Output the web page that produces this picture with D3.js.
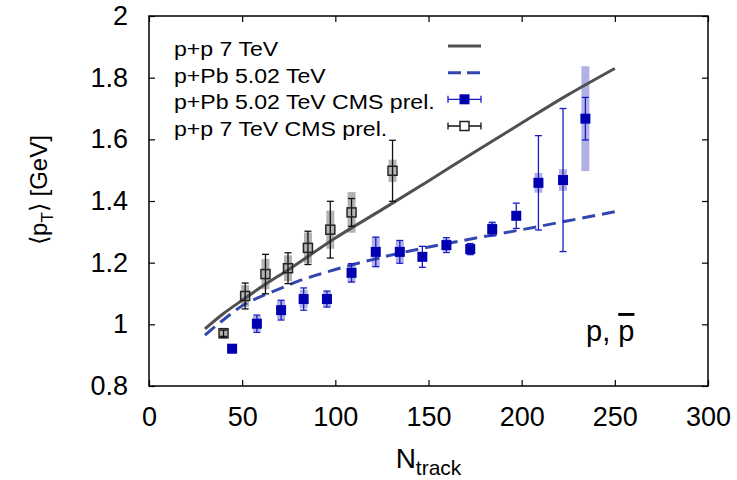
<!DOCTYPE html>
<html>
<head>
<meta charset="utf-8">
<script src="https://cdn.jsdelivr.net/npm/d3@7"></script>
<style>
  body { margin: 0; background: #fff; }
  text { font-family: "Liberation Sans", Arial, sans-serif; fill: #000; }
</style>
</head>
<body>
<div id="chart"></div>
<script>
// p+p 7 TeV CMS prel. (open squares)
var ppN    = [40.0, 51.6, 62.5, 74.6, 85.3, 97.3, 108.7, 130.7];
var ppMean = [0.971, 1.092, 1.163, 1.182, 1.248, 1.307, 1.363, 1.498];
var ppStat = [0.010, 0.042, 0.064, 0.050, 0.054, 0.092, 0.045, 0.099];
var ppSys  = [0.018, 0.035, 0.049, 0.042, 0.050, 0.062, 0.066, 0.036];

// p+Pb 5.02 TeV CMS prel. (filled squares)
var pPbN    = [44.6, 57.9, 70.9, 83.0, 95.5, 108.7, 121.7, 134.6, 146.7, 159.6, 172.4, 184.2, 197.1, 209.0, 222.2, 234.2];
var pPbMean = [0.921, 1.002, 1.046, 1.082, 1.082, 1.167, 1.235, 1.235, 1.219, 1.257, 1.244, 1.309, 1.352, 1.459, 1.468, 1.667];
var pPbStat = [0.010, 0.028, 0.032, 0.036, 0.026, 0.030, 0.048, 0.037, 0.034, 0.024, 0.018, 0.022, 0.041, 0.153, 0.232, 0.069];
var pPbSys  = [0.015, 0.025, 0.030, 0.030, 0.025, 0.030, 0.048, 0.035, 0.015, 0.020, 0.015, 0.020, 0.015, 0.032, 0.035, 0.170];

// model curves
var ppCurveN    = [30, 40, 50, 60, 75, 100, 125, 150, 175, 200, 225, 250];
var ppCurveMean = [0.985, 1.035, 1.078, 1.12, 1.178, 1.28, 1.372, 1.465, 1.56, 1.653, 1.745, 1.83];
var pPbCurveN    = [30, 40, 50, 60, 70, 80, 90, 100, 120, 140, 160, 180, 200, 225, 250];
var pPbCurveMean = [0.965, 1.015, 1.06, 1.09, 1.115, 1.14, 1.16, 1.178, 1.21, 1.238, 1.262, 1.285, 1.307, 1.336, 1.365];

var xTicks = [0, 50, 100, 150, 200, 250, 300];
var yTicks = [0.8, 1, 1.2, 1.4, 1.6, 1.8, 2];
var legendLabels = ["p+p 7 TeV", "p+Pb 5.02 TeV", "p+Pb 5.02 TeV CMS prel.", "p+p 7 TeV CMS prel."];

var width = 737, height = 480;
var pLeft = 149, pRight = 708, pTop = 16, pBottom = 386;

var blue = "#0000b0", blueBox = "#b0b0e6", grayBox = "#b3b3b3";
var ppLine = "#505050", pPbLine = "#3347b0";

var svg = d3.select("#chart").append("svg")
  .attr("width", width)
  .attr("height", height);

var x = d3.scaleLinear().domain([0, 300]).range([pLeft, pRight]);
var y = d3.scaleLinear().domain([0.8, 2]).range([pBottom, pTop]);

// axes, gnuplot style: inward ticks on all four sides
var fmt = function(d) { return d3.format("~g")(d); };
var gx = svg.append("g").attr("transform", "translate(0," + pBottom + ")")
  .call(d3.axisBottom(x).tickValues(xTicks).tickFormat(fmt).tickSizeInner(-6).tickSizeOuter(0).tickPadding(21));
var gy = svg.append("g").attr("transform", "translate(" + pLeft + ",0)")
  .call(d3.axisLeft(y).tickValues(yTicks).tickFormat(fmt).tickSizeInner(-6).tickSizeOuter(0).tickPadding(21));
svg.append("g").attr("transform", "translate(0," + pTop + ")")
  .call(d3.axisTop(x).tickValues(xTicks).tickFormat("").tickSizeInner(-6).tickSizeOuter(0));
svg.append("g").attr("transform", "translate(" + pRight + ",0)")
  .call(d3.axisRight(y).tickValues(yTicks).tickFormat("").tickSizeInner(-6).tickSizeOuter(0));

svg.selectAll(".domain").remove();
svg.selectAll(".tick line").attr("stroke", "#000").attr("stroke-width", 1.2);
svg.selectAll(".tick text").style("font-size", "27px").attr("fill", "#000");
gx.selectAll(".tick text").attr("dy", "0.71em");

svg.append("rect")
  .attr("x", pLeft).attr("y", pTop)
  .attr("width", pRight - pLeft).attr("height", pBottom - pTop)
  .attr("fill", "none").attr("stroke", "#000").attr("stroke-width", 1.5);

// axis titles
var xt = svg.append("text")
  .attr("x", (pLeft + pRight) / 2).attr("y", 468)
  .attr("text-anchor", "middle")
  .style("font-size", "28px");
xt.append("tspan").text("N");
xt.append("tspan").attr("dy", 7).style("font-size", "21px").text("track");

var yt = svg.append("text")
  .attr("transform", "translate(47," + 190 + ") rotate(-90)")
  .attr("text-anchor", "middle")
  .style("font-size", "24px");
yt.append("tspan").text("\u27E8p");
yt.append("tspan").attr("dy", 6).style("font-size", "17px").text("T");
yt.append("tspan").attr("dy", -6).text("\u27E9 [GeV]");

// systematic boxes
var boxW = 8;
svg.append("g").selectAll("rect")
  .data(ppN.map(function(n, i) { return {n: n, m: ppMean[i], s: ppSys[i]}; }))
  .enter().append("rect")
  .attr("x", function(d) { return x(d.n) - boxW / 2; })
  .attr("y", function(d) { return y(d.m + d.s); })
  .attr("width", boxW)
  .attr("height", function(d) { return y(d.m - d.s) - y(d.m + d.s); })
  .attr("fill", grayBox);

svg.append("g").selectAll("rect")
  .data(pPbN.map(function(n, i) { return {n: n, m: pPbMean[i], s: pPbSys[i]}; }))
  .enter().append("rect")
  .attr("x", function(d) { return x(d.n) - boxW / 2; })
  .attr("y", function(d) { return y(d.m + d.s); })
  .attr("width", boxW)
  .attr("height", function(d) { return y(d.m - d.s) - y(d.m + d.s); })
  .attr("fill", blueBox);

// model curves
var line = d3.line().curve(d3.curveMonotoneX)
  .x(function(d) { return x(d[0]); })
  .y(function(d) { return y(d[1]); });

svg.append("path")
  .attr("d", line(ppCurveN.map(function(n, i) { return [n, ppCurveMean[i]]; })))
  .attr("fill", "none").attr("stroke", ppLine).attr("stroke-width", 3);

svg.append("path")
  .attr("d", line(pPbCurveN.map(function(n, i) { return [n, pPbCurveMean[i]]; })))
  .attr("fill", "none").attr("stroke", pPbLine).attr("stroke-width", 3)
  .attr("stroke-dasharray", "13,7");

// statistical error bars + markers
function errorBars(g, N, M, E, col, cap) {
  var pts = N.map(function(n, i) { return {n: n, m: M[i], e: E[i]}; });
  var eb = g.selectAll("g.eb").data(pts).enter().append("g").attr("class", "eb")
    .attr("stroke", col).attr("stroke-width", 1.3);
  eb.append("line")
    .attr("x1", function(d) { return x(d.n); }).attr("x2", function(d) { return x(d.n); })
    .attr("y1", function(d) { return y(d.m - d.e); }).attr("y2", function(d) { return y(d.m + d.e); });
  eb.append("line")
    .attr("x1", function(d) { return x(d.n) - cap; }).attr("x2", function(d) { return x(d.n) + cap; })
    .attr("y1", function(d) { return y(d.m - d.e); }).attr("y2", function(d) { return y(d.m - d.e); });
  eb.append("line")
    .attr("x1", function(d) { return x(d.n) - cap; }).attr("x2", function(d) { return x(d.n) + cap; })
    .attr("y1", function(d) { return y(d.m + d.e); }).attr("y2", function(d) { return y(d.m + d.e); });
  return pts;
}

var gpp = svg.append("g");
var ppPts = errorBars(gpp, ppN, ppMean, ppStat, "#111", 3.5);
gpp.selectAll("rect.mk").data(ppPts).enter().append("rect").attr("class", "mk")
  .attr("x", function(d) { return x(d.n) - 4.5; })
  .attr("y", function(d) { return y(d.m) - 4.5; })
  .attr("width", 9).attr("height", 9)
  .attr("fill", "none").attr("stroke", "#222").attr("stroke-width", 1.5);

var gpb = svg.append("g");
var pbPts = errorBars(gpb, pPbN, pPbMean, pPbStat, "#1a1ac8", 3.5);
gpb.selectAll("rect.mk").data(pbPts).enter().append("rect").attr("class", "mk")
  .attr("x", function(d) { return x(d.n) - 5; })
  .attr("y", function(d) { return y(d.m) - 5; })
  .attr("width", 10).attr("height", 10)
  .attr("fill", blue);

// legend
var legRows = [46, 72.7, 99.3, 126];
var leg = svg.append("g");
legendLabels.forEach(function(t, i) {
  leg.append("text")
    .attr("transform", "translate(174," + (legRows[i] + 10) + ") scale(1.1,1)")
    .style("font-size", "21px")
    .text(t);
});
var lx0 = 448, lx1 = 481, lxc = (lx0 + lx1) / 2;
leg.append("line").attr("x1", lx0).attr("x2", lx1).attr("y1", legRows[0]).attr("y2", legRows[0])
  .attr("stroke", ppLine).attr("stroke-width", 3);
leg.append("line").attr("x1", lx0).attr("x2", lx1).attr("y1", legRows[1]).attr("y2", legRows[1])
  .attr("stroke", pPbLine).attr("stroke-width", 3).attr("stroke-dasharray", "13,6");
[[2, "#1a1ac8"], [3, "#111"]].forEach(function(r) {
  var yy = legRows[r[0]];
  var g = leg.append("g").attr("stroke", r[1]).attr("stroke-width", 1.3);
  g.append("line").attr("x1", lx0).attr("x2", lx1).attr("y1", yy).attr("y2", yy);
  g.append("line").attr("x1", lx0).attr("x2", lx0).attr("y1", yy - 3.5).attr("y2", yy + 3.5);
  g.append("line").attr("x1", lx1).attr("x2", lx1).attr("y1", yy - 3.5).attr("y2", yy + 3.5);
});
leg.append("rect").attr("x", lxc - 5).attr("y", legRows[2] - 5).attr("width", 10).attr("height", 10)
  .attr("fill", blue);
leg.append("rect").attr("x", lxc - 4.5).attr("y", legRows[3] - 4.5).attr("width", 9).attr("height", 9)
  .attr("fill", "#fff").attr("stroke", "#222").attr("stroke-width", 1.5);

// particle label
var pl = svg.append("text")
  .attr("x", 586).attr("y", 341)
  .style("font-size", "29px");
pl.append("tspan").text("p, ");
pl.append("tspan").style("text-decoration", "overline").text("p");
</script>
</body>
</html>
